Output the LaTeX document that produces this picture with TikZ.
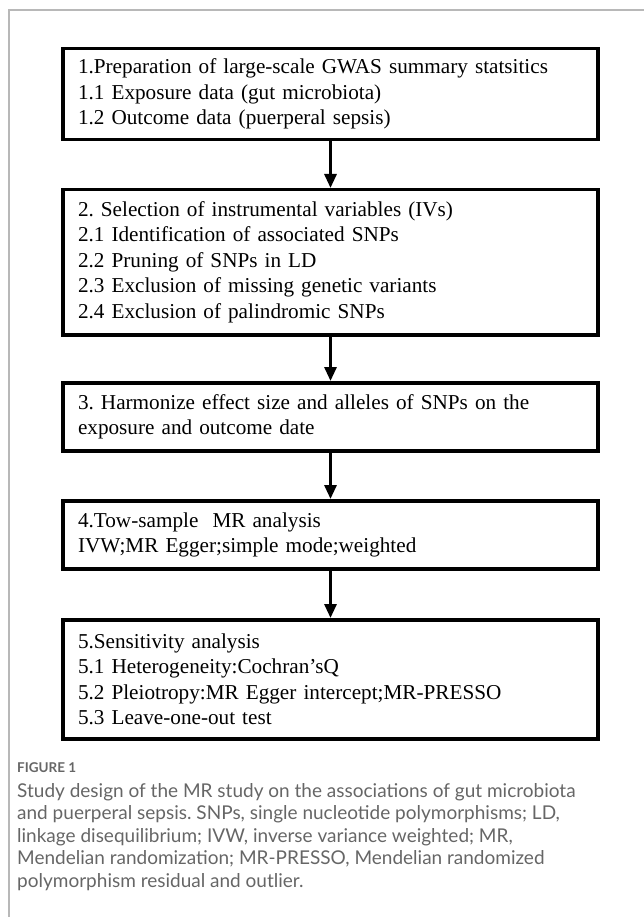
\documentclass[tikz,border=0pt]{standalone}
\usepackage{fontspec}
\setmainfont{Liberation Serif}
\newfontfamily\capfont{Lato}
\usetikzlibrary{arrows.meta}
\definecolor{framegray}{HTML}{B8B8B8}
\definecolor{captext}{HTML}{666666}
\frenchspacing
\begin{document}
\begin{tikzpicture}[x=1pt,y=-1pt,
  stepbox/.style={draw=black, line width=3.5pt, text width=505pt, align=left,
    inner xsep=15pt, inner ysep=0pt, anchor=north,
    font=\fontsize{21.2}{25.5}\selectfont},
  flow/.style={line width=3pt, -{Triangle[length=14pt,width=12pt]}},
  captitle/.style={anchor=north west, inner sep=0pt, text=captext,
    font=\capfont\bfseries\fontsize{13.5}{15}\selectfont},
  capbody/.style={anchor=north west, inner sep=0pt, align=left, text=captext,
    font=\capfont\fontsize{19}{22.5}\selectfont}]
\useasboundingbox (0,0) rectangle (644,917);
\draw[framegray, line width=1.3pt] (9,917) -- (9,10) -- (644,10);

\node[stepbox, minimum height=91pt] (b1) at (330.5,47)
  {1.Preparation of large-scale GWAS summary statsitics\\
   1.1 Exposure data (gut microbiota)\\
   1.2 Outcome data (puerperal sepsis)};
\node[stepbox, minimum height=145pt] (b2) at (330.5,188)
  {2. Selection of instrumental variables (IVs)\\
   2.1 Identification of associated SNPs\\
   2.2 Pruning of SNPs in LD\\
   2.3 Exclusion of missing genetic variants\\
   2.4 Exclusion of palindromic SNPs};
\node[stepbox, minimum height=68pt] (b3) at (330.5,381)
  {3. Harmonize effect size and alleles of SNPs on the\\
   exposure and outcome date};
\node[stepbox, minimum height=68pt] (b4) at (330.5,499)
  {4.Tow-sample\ \ MR analysis\\
   IVW;MR Egger;simple mode;weighted};
\node[stepbox, minimum height=119pt] (b5) at (330.5,618)
  {5.Sensitivity analysis\\
   5.1 Heterogeneity:Cochran’sQ\\
   5.2 Pleiotropy:MR Egger intercept;MR-PRESSO\\
   5.3 Leave-one-out test};

\draw[flow] (b1.south) -- (b2.north);
\draw[flow] (b2.south) -- (b3.north);
\draw[flow] (b3.south) -- (b4.north);
\draw[flow] (b4.south) -- (b5.north);

\node[captitle] (ct) at (17,762) {FIGURE 1};
\node[capbody] (cb) at (17,783)
  {Study design of the MR study on the associations of gut microbiota\\
   and puerperal sepsis. SNPs, single nucleotide polymorphisms; LD,\\
   linkage disequilibrium; IVW, inverse variance weighted; MR,\\
   Mendelian randomization; MR-PRESSO, Mendelian randomized\\
   polymorphism residual and outlier.};
\end{tikzpicture}
\end{document}
